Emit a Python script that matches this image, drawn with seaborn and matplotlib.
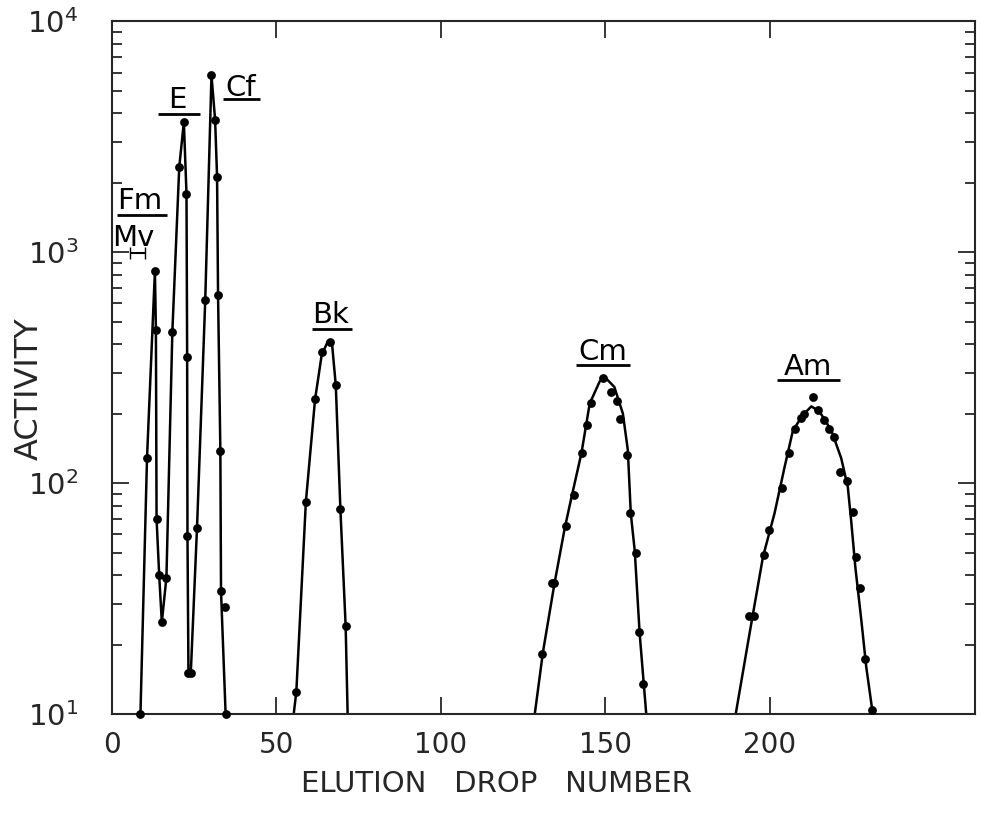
import numpy as np
import matplotlib
matplotlib.use("Agg")
import matplotlib.pyplot as plt
import seaborn as sns

# elution drop number / activity
# Fm, Mv, E and Cf: points joined in order
early_drop = [8.7, 10.7, 13.1, 13.4, 13.6, 14.4, 15.2, 16.6, 18.4, 20.5, 21.9,
              22.7, 22.9, 23.0, 23.3, 24.0, 25.9, 28.4, 30.3, 31.4, 32.0, 32.3,
              33.0, 33.2, 34.6]
early_act = [10, 129, 828, 462, 70, 40, 25, 39, 452, 2340, 3660,
             1795, 352, 59, 15, 15, 64, 619, 5830, 3750, 2120, 651,
             138, 34, 10]
extra_drop = [34.3]
extra_act = [29]

# Bk
bk_drop = [56.1, 59.0, 61.8, 63.9, 66.3, 68.1, 69.5, 71.1]
bk_act = [12.5, 83, 231, 368, 409, 265, 77, 24]
bk_curve_drop = [55.3, 56.1, 59.0, 61.8, 63.8, 65.7, 66.9, 68.1, 69.5, 71.1, 71.7]
bk_curve_act = [10, 12.5, 83, 231, 358, 412, 410, 265, 77, 24, 10]

# Cm
cm_drop = [130.9, 133.7, 134.6, 138.0, 140.4, 142.9, 144.5, 145.8, 149.3,
           151.8, 153.6, 154.6, 156.6, 157.7, 159.4, 160.2, 161.6]
cm_act = [18.3, 37, 37, 65, 89, 135, 178, 223, 284,
          248, 226, 189, 133, 74, 50, 22.6, 13.5]
cm_curve_drop = [128.6, 131.1, 134.6, 137.7, 139.7, 142.8, 145.3, 148.3, 149.8,
                 152.8, 155.4, 156.9, 157.8, 159.0, 160.5, 162.5]
cm_curve_act = [10, 18.6, 36.8, 63.7, 86, 135, 221, 275, 289,
                261, 200, 139, 74, 51, 22.3, 10]

# Am
am_drop = [193.8, 195.3, 198.2, 199.8, 203.8, 205.9, 207.6, 209.6, 210.6, 213.2,
           214.7, 216.4, 218.2, 219.6, 221.5, 223.5, 225.3, 226.4, 227.6, 229.1, 231.1]
am_act = [26.7, 26.7, 49, 63, 95, 135, 171, 192, 200, 235,
          207, 187, 171, 158, 112, 102, 75, 48, 35, 17.4, 10.4]
am_curve_drop = [189.7, 193.9, 198.0, 201.5, 204.6, 207.1, 210.1, 212.7, 215.2,
                 218.8, 221.8, 223.8, 224.8, 226.1, 227.9, 229.4, 231.4]
am_curve_act = [10, 22.3, 48, 74, 118, 169, 197, 215, 204,
                169, 128, 96, 69, 43, 25.5, 16, 10]

sns.set_style("ticks")
plt.rcParams['font.family'] = ['DejaVu Sans']

fig = plt.figure(figsize=(9.81, 8.18), dpi=100)
ax = fig.add_axes([0.114, 0.127, 0.880, 0.847])

lw = 1.8
sns.lineplot(x=early_drop, y=early_act, sort=False, estimator=None,
             color='k', lw=lw, ax=ax)
for cx, cy in [(bk_curve_drop, bk_curve_act), (cm_curve_drop, cm_curve_act),
               (am_curve_drop, am_curve_act)]:
    sns.lineplot(x=cx, y=cy, sort=False, estimator=None, color='k', lw=lw, ax=ax)

all_x = early_drop + extra_drop + bk_drop + cm_drop + am_drop
all_y = early_act + extra_act + bk_act + cm_act + am_act
sns.scatterplot(x=all_x, y=all_y, color='k', s=40, edgecolor='k',
                linewidth=0, ax=ax, clip_on=False, zorder=3)

ax.set_yscale('log')
ax.set_ylim(10, 1e4)
ax.set_xlim(0, 262.5)
ax.set_xticks([0, 50, 100, 150, 200])
ax.set_xticklabels(['0', '50', '100', '150', '200'], fontsize=20)
ax.set_yticks([10, 100, 1000, 10000])
ax.set_yticklabels([r'$10^1$', r'$10^2$', r'$10^3$', r'$10^4$'], fontsize=21)
ax.tick_params(which='both', direction='in', top=True, right=True, width=1.3)
ax.tick_params(which='major', length=12)
ax.tick_params(axis='x', which='major', pad=12)
ax.tick_params(axis='y', which='major', pad=24)
ax.tick_params(which='minor', length=7)
ax.tick_params(axis='x', which='minor', bottom=False, top=False)
for sp in ax.spines.values():
    sp.set_linewidth(1.5)

ax.set_xlabel('ELUTION   DROP   NUMBER', fontsize=21)
ax.xaxis.set_label_coords(0.446, -0.08)
ax.set_ylabel('ACTIVITY', fontsize=23)
ax.yaxis.set_label_coords(-0.078, 0.47)

# element labels with underlines
lab = dict(fontsize=21, ha='center', va='bottom', color='k')
ax.text(8.5, 1450, 'Fm', **lab)
ax.hlines(1445, 1.5, 16.7, color='k', lw=2)
ax.text(6.6, 1000, 'Mv', **lab)
ax.errorbar(7.8, 990, xerr=2.2, fmt='none', ecolor='k', capsize=4, lw=1.5)
ax.text(19.8, 3960, 'E', **lab)
ax.hlines(3955, 14.0, 26.7, color='k', lw=2)
ax.text(39.2, 4450, 'Cf', **lab)
ax.hlines(4590, 33.7, 45.0, color='k', lw=2)
ax.text(66.6, 465, 'Bk', **lab)
ax.hlines(464, 60.8, 73.0, color='k', lw=2)
ax.text(149.3, 322, 'Cm', **lab)
ax.hlines(324, 141.0, 157.5, color='k', lw=2)
ax.text(211.8, 278, 'Am', **lab)
ax.hlines(279, 202.4, 221.3, color='k', lw=2)

fig.savefig('out.png', dpi=100)
